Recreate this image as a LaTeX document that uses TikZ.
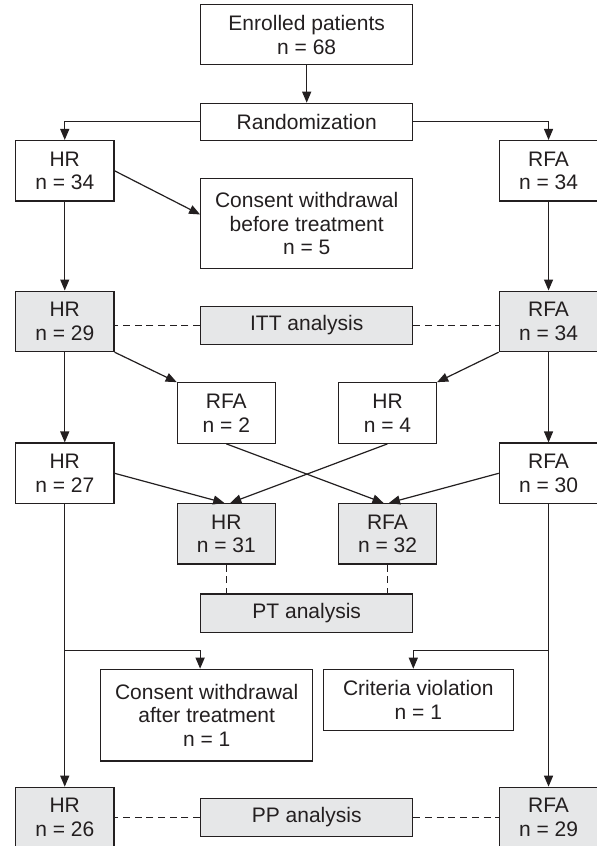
\documentclass[tikz,border=0pt]{standalone}
\usepackage{fontspec}
\setmainfont{Liberation Sans}
\usetikzlibrary{arrows.meta}
\definecolor{ln}{HTML}{231F20}
\definecolor{gf}{HTML}{E6E7E8}
\begin{document}
\begin{tikzpicture}[x=1pt,y=-1pt,
  box/.style={draw=ln, line width=1.2pt, inner sep=0pt, align=center,
    font=\fontsize{21}{23.7}\selectfont, text=ln},
  gbox/.style={box, fill=gf},
  mid/.style={minimum width=212pt},
  side/.style={minimum width=98.5pt, minimum height=60.5pt},
  arr/.style={draw=ln, line width=1.2pt, -{Triangle[length=11pt,width=9pt]}},
  dsh/.style={draw=ln, line width=1.2pt, dash pattern=on 7pt off 4.7pt}]
\useasboundingbox (0,0) rectangle (597,846);
\fill[white] (0,0) rectangle (597,846);

% nodes
\node[box, mid, minimum height=60pt] (enr) at (306.7,34.7) {Enrolled patients\\n = 68};
\node[box, mid, minimum height=37pt] (rand) at (306.7,121.8) {Randomization};
\node[box, side] (hr34) at (64.75,170.8) {HR\\n = 34};
\node[box, side] (rfa34) at (548.55,170.8) {RFA\\n = 34};
\node[box, mid, minimum height=90.4pt] (cwb) at (306.7,223.5) {Consent withdrawal\\before treatment\\n = 5};

\node[gbox, side] (hr29) at (64.75,321.35) {HR\\n = 29};
\node[gbox, mid, minimum height=37.6pt] (itt) at (306.7,325.5) {ITT analysis};
\node[gbox, side] (rfa34b) at (548.55,321.35) {RFA\\n = 34};

\node[box, side, minimum width=98pt] (rfa2) at (226.3,413) {RFA\\n = 2};
\node[box, side, minimum width=98pt] (hr4) at (387.5,413) {HR\\n = 4};

\node[box, side] (hr27) at (64.75,473.3) {HR\\n = 27};
\node[box, side] (rfa30) at (548.55,473.3) {RFA\\n = 30};

\node[gbox, side, minimum width=98pt] (hr31) at (226.3,533.75) {HR\\n = 31};
\node[gbox, side, minimum width=98pt] (rfa32) at (387.5,533.75) {RFA\\n = 32};

\node[gbox, mid, minimum height=38.3pt] (pt) at (306.7,613.2) {PT analysis};

\node[box, mid, minimum height=91.7pt] (cwa) at (206.7,715.15) {Consent withdrawal\\after treatment\\n = 1};
\node[box, minimum width=190pt, minimum height=61.4pt] (crit) at (418.3,700) {Criteria violation\\n = 1};

\node[gbox, side] (hr26) at (64.75,817.5) {HR\\n = 26};
\node[gbox, mid, minimum height=38.4pt] (pp) at (306.7,817.5) {PP analysis};
\node[gbox, side] (rfa29) at (548.55,817.5) {RFA\\n = 29};

\coordinate (bl) at (64.75,650.7);
\coordinate (br) at (548.55,650.7);

% connectors
\draw[arr] (enr.south) -- (rand.north);
\draw[arr] (rand.west) -| (hr34.north);
\draw[arr] (rand.east) -| (rfa34.north);
\draw[arr] (hr34.east) -- ([yshift=9pt]cwb.west);
\draw[arr] (hr34.south) -- (hr29.north);
\draw[arr] (rfa34.south) -- (rfa34b.north);

\draw[dsh] (itt.west) -- (itt.west -| hr29.east);
\draw[dsh] (itt.east) -- (itt.east -| rfa34b.west);

\draw[arr] (hr29.south east) -- (rfa2.north west);
\draw[arr] (rfa34b.south west) -- (hr4.north east);
\draw[arr] (hr29.south) -- (hr27.north);
\draw[arr] (rfa34b.south) -- (rfa30.north);

\draw[arr] (hr27.east) -- ([xshift=-2pt]hr31.north);
\draw[arr] (hr4.south) -- ([xshift=4pt]hr31.north);
\draw[arr] (rfa2.south) -- ([xshift=-4pt]rfa32.north);
\draw[arr] (rfa30.west) -- ([xshift=1.5pt]rfa32.north);

\draw[dsh] (hr31.south) -- (hr31.south |- pt.north);
\draw[dsh] (rfa32.south) -- (rfa32.south |- pt.north);

\draw[arr] (hr27.south) -- (hr26.north);
\draw[arr] (rfa30.south) -- (rfa29.north);
\draw[arr] (bl) -| (pt.west |- cwa.north);
\draw[arr] (br) -| (pt.east |- crit.north);

\draw[dsh] (pp.west) -- (pp.west -| hr26.east);
\draw[dsh] (pp.east) -- (pp.east -| rfa29.west);
\end{tikzpicture}
\end{document}
